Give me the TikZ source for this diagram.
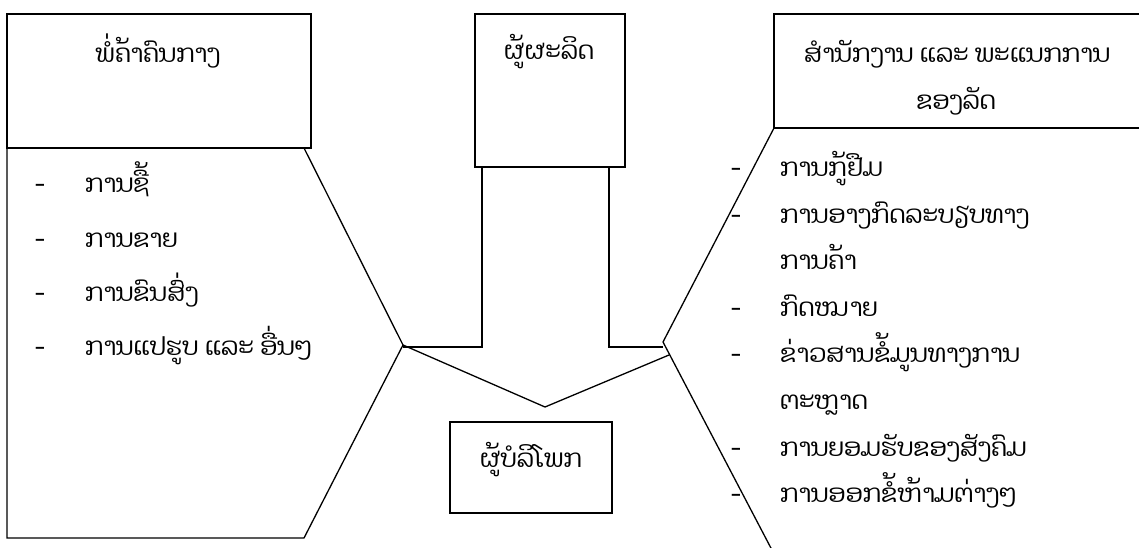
\documentclass[tikz,border=0pt]{standalone}
\usepackage{fontspec}
\newfontfamily\laofont[Script=Lao]{Dhyana}
\begin{document}
\begin{tikzpicture}[x=1pt,y=-1pt,
  boxline/.style={line width=1.8pt},
  thinline/.style={line width=1.3pt},
  lbl/.style={font=\laofont\fontsize{25}{30}\selectfont, inner sep=0pt, anchor=base},
  item/.style={font=\laofont\fontsize{25}{30}\selectfont, inner sep=0pt, anchor=base west},
  dashmark/.style={font=\laofont\fontsize{25}{30}\selectfont, inner sep=0pt, anchor=base}]
\useasboundingbox (0,0) rectangle (1139,548);
% key points
\coordinate (LA) at (7,148);
\coordinate (LB) at (304,148);
\coordinate (LC) at (403,345);
\coordinate (LD) at (304,538);
\coordinate (LE) at (7,538);
\coordinate (RA) at (774,128);
\coordinate (RC) at (663,342);
\coordinate (RD) at (773,552);
\coordinate (RE) at (1145,128);
\coordinate (VL) at (403,345);
\coordinate (VB) at (545,407);
\coordinate (VR) at (669,355);
\coordinate (P1) at (482,167);
\coordinate (P2) at (482,347);
\coordinate (P3) at (403,347);
\coordinate (Q1) at (609,167);
\coordinate (Q2) at (609,347);
\coordinate (Q3) at (663,347);
% shapes
\draw[thinline] (LA) -- (LB) -- (LC) -- (LD) -- (LE) -- cycle;
\draw[thinline] (RE) -- (RA) -- (RC) -- (RD);
\draw[thinline] (P1) -- (P2) -- (P3);
\draw[thinline] (Q1) -- (Q2) -- (Q3);
\draw[thinline] (VL) -- (VB) -- (VR);
% boxes
\draw[boxline] (7,14) rectangle (311,148);
\draw[boxline] (475,14) rectangle (625,167);
\draw[boxline] (1145,14) -- (774,14) -- (774,128) -- (1145,128);
\draw[boxline] (450,422) rectangle (612,513);
% titles
\node[lbl] (t1) at (158,63) {ພໍ່ຄ້າຄົນກາງ};
\node[lbl] (t2) at (549,60) {ຜູ້ຜະລິດ};
\node[lbl] (t3a) at (957,63) {ສຳນັກງານ ແລະ ພະແນກການ};
\node[lbl] (t3b) at (956,110) {ຂອງລັດ};
\node[lbl] (t4) at (531,467) {ຜູ້ບໍລິໂພກ};
% left list
\foreach \y/\t [count=\i] in {193/ການຊື້, 247/ການຂາຍ, 301/ການຂົນສົ່ງ, 355/ການແປຮູບ ແລະ ອື່ນໆ}{
  \node[dashmark] (ld\i) at (40,\y) {-};
  \node[item] (li\i) at (85,\y) {\t};
}
% right list
\foreach \y/\t [count=\i] in {176/ການກູ້ຢືມ, 223/ການອາງກົດລະບຽບທາງ, 316/ກົດໝາຍ, 362/ຂ່າວສານຂໍ້ມູນທາງການ, 456/ການຍອມຮັບຂອງສັງຄົມ, 502/ການອອກຂໍ້ຫ້າມຕ່າງໆ}{
  \node[dashmark] (rd\i) at (736,\y) {-};
  \node[item] (ri\i) at (780,\y) {\t};
}
\node[item] (rc1) at (780,269) {ການຄ້າ};
\node[item] (rc2) at (780,409) {ຕະຫຼາດ};
\end{tikzpicture}
\end{document}
